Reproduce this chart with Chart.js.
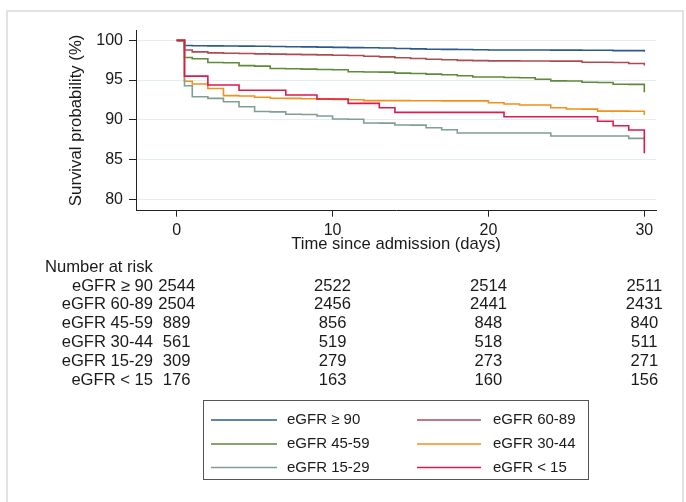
<!DOCTYPE html>
<html><head><meta charset="utf-8">
<script src="https://cdn.jsdelivr.net/npm/chart.js@4"></script>
<style>
html,body{margin:0;padding:0;background:#fff;}
#wrap{position:relative;width:686px;height:502px;overflow:hidden;background:#fff;}
#frame{position:absolute;left:6px;top:10px;width:678px;height:520px;border:2px solid #e2e2e2;box-sizing:border-box;pointer-events:none;}
canvas{position:absolute;left:0;top:0;}
</style></head><body>
<div id="wrap"><canvas id="c" width="686" height="502"></canvas><div id="frame"></div></div>
<script>
// ---- data ----
const days = [0,0.5,1,2,3,4,5,6,7,8,9,10,11,12,13,14,15,16,17,18,19,20,21,22,23,24,25,26,27,28,29,30];
const groupLabels = ['eGFR \u2265 90','eGFR 60-89','eGFR 45-59','eGFR 30-44','eGFR 15-29','eGFR < 15'];
const s90   = [100,99.35,99.32,99.3,99.28,99.27,99.25,99.23,99.2,99.18,99.15,99.12,99.08,99.06,99.04,98.97,98.92,98.88,98.86,98.84,98.82,98.78,98.78,98.78,98.78,98.77,98.77,98.76,98.76,98.7,98.7,98.55];
const s6089 = [100,98.78,98.55,98.42,98.38,98.34,98.3,98.27,98.23,98.2,98.17,98.13,98.1,98.0,97.92,97.8,97.72,97.62,97.56,97.48,97.45,97.42,97.42,97.4,97.4,97.38,97.38,97.25,97.24,97.22,97.08,96.85];
const s4559 = [100,97.85,97.68,97.22,97.18,96.82,96.75,96.45,96.42,96.38,96.33,96.3,96.05,96.02,96.0,95.88,95.83,95.75,95.68,95.55,95.38,95.38,95.32,95.3,95.1,94.9,94.88,94.72,94.7,94.48,94.46,93.48];
const s3044 = [100,94.85,94.5,93.95,93.05,93.0,92.85,92.72,92.7,92.66,92.6,92.56,92.52,92.42,92.42,92.41,92.4,92.4,92.39,92.38,92.38,92.15,91.99,91.86,91.86,91.52,91.36,91.35,91.1,91.1,91.08,90.6];
const s1529 = [100,94.29,92.91,92.7,92.28,91.65,91.05,91.0,90.7,90.68,90.48,90.1,90.08,89.6,89.58,89.35,89.33,89.0,88.75,88.35,88.35,88.35,88.35,88.35,88.35,87.97,87.97,87.97,87.97,87.97,87.67,87.67];
const s15   = [100,95.5,95.5,94.38,94.38,93.72,93.72,93.72,93.12,93.12,92.62,92.62,92.07,92.07,91.52,90.94,90.94,90.94,90.94,90.94,90.94,90.94,90.39,90.39,90.39,90.39,90.39,90.39,89.82,89.26,88.72,85.8];

const riskTimes = [0,10,20,30];
const risk90   = [2544,2522,2514,2511];
const risk6089 = [2504,2456,2441,2431];
const risk4559 = [889,856,848,840];
const risk3044 = [561,519,518,511];
const risk1529 = [309,279,273,271];
const risk15   = [176,163,160,156];

const xTicks = [0,10,20,30];
const yTicks = [80,85,90,95,100];
const xTitle = 'Time since admission (days)';
const yTitle = 'Survival probability (%)';
const riskTitle = 'Number at risk';

// ---- styling ----
const colors = ['#2a5b8c','#b04a50','#5e8a3a','#f39019','#7f9f92','#dc1a4b'];
const FONT = '"Liberation Sans", Arial, sans-serif';
const TXT = '#1a1a1a';

const series = [s90,s6089,s4559,s3044,s1529,s15];
const risks = [risk90,risk6089,risk4559,risk3044,risk1529,risk15];

const datasets = series.map((vals,i)=>({
  label: groupLabels[i],
  data: days.map((d,j)=>({x:d,y:vals[j]})),
  borderColor: colors[i],
  borderWidth: 1.6,
  pointRadius: 0,
  stepped: true,
  fill: false,
  order: series.length - 1 - i
}));

const extras = {
  id:'extras',
  afterDraw(chart){
    const ctx = chart.ctx;
    const xs = chart.scales.x;
    ctx.save();
    ctx.fillStyle = TXT;
    ctx.font = '16.6px ' + FONT;
    ctx.textBaseline = 'middle';
    ctx.textAlign = 'left';
    ctx.fillText(riskTitle, 45, 267);
    groupLabels.forEach((lab,i)=>{
      const y = 286 + i*18.9;
      ctx.textAlign = 'right';
      ctx.fillText(lab, 153, y);
      ctx.textAlign = 'center';
      riskTimes.forEach((t,j)=>{
        ctx.fillText(String(risks[i][j]), xs.getPixelForValue(t), y);
      });
    });
    // legend box
    ctx.strokeStyle = '#555';
    ctx.lineWidth = 1;
    ctx.strokeRect(203.5, 400.5, 385, 79);
    const colLine = [[211,277],[417,481]];
    const colText = [287,493];
    const rowY = [420,444,467.5];
    ctx.font = '15px ' + FONT;
    groupLabels.forEach((lab,i)=>{
      const c = i%2, r = Math.floor(i/2);
      ctx.strokeStyle = colors[i];
      ctx.lineWidth = 1.6;
      ctx.beginPath();
      ctx.moveTo(colLine[c][0], rowY[r]);
      ctx.lineTo(colLine[c][1], rowY[r]);
      ctx.stroke();
      ctx.fillStyle = TXT;
      ctx.textAlign = 'left';
      ctx.fillText(lab, colText[c], rowY[r]);
    });
    ctx.restore();
  }
};

new Chart(document.getElementById('c'), {
  type:'line',
  data:{datasets},
  options:{
    responsive:false,
    animation:false,
    devicePixelRatio:1,
    layout:{padding:{left:60,right:30,top:30,bottom:248.3}},
    plugins:{legend:{display:false},tooltip:{enabled:false}},
    scales:{
      x:{
        type:'linear', min:-2.61, max:30.75,
        afterBuildTicks:(s)=>{ s.ticks = xTicks.map(v=>({value:v})); },
        afterFit:(s)=>{ s.height = 43; },
        grid:{drawOnChartArea:false, drawTicks:true, tickLength:6, tickColor:'#222'},
        border:{display:true, color:'#222', width:1},
        ticks:{font:{family:FONT,size:16}, color:TXT, padding:4, maxRotation:0},
        title:{display:true, text:xTitle, font:{family:FONT,size:16.6}, color:TXT, padding:{top:0,bottom:-1}}
      },
      y:{
        type:'linear', min:78.57, max:101.3,
        afterBuildTicks:(s)=>{ s.ticks = yTicks.map(v=>({value:v})); },
        afterFit:(s)=>{ s.width = 76; },
        grid:{color:'#e4edf1', lineWidth:1, drawTicks:true, tickLength:7, tickColor:'#222'},
        border:{display:true, color:'#222', width:1},
        ticks:{font:{family:FONT,size:16}, color:TXT, padding:6},
        title:{display:true, text:yTitle, font:{family:FONT,size:16.8}, color:TXT, padding:{top:6,bottom:0}}
      }
    }
  },
  plugins:[extras]
});
</script>
</body></html>
